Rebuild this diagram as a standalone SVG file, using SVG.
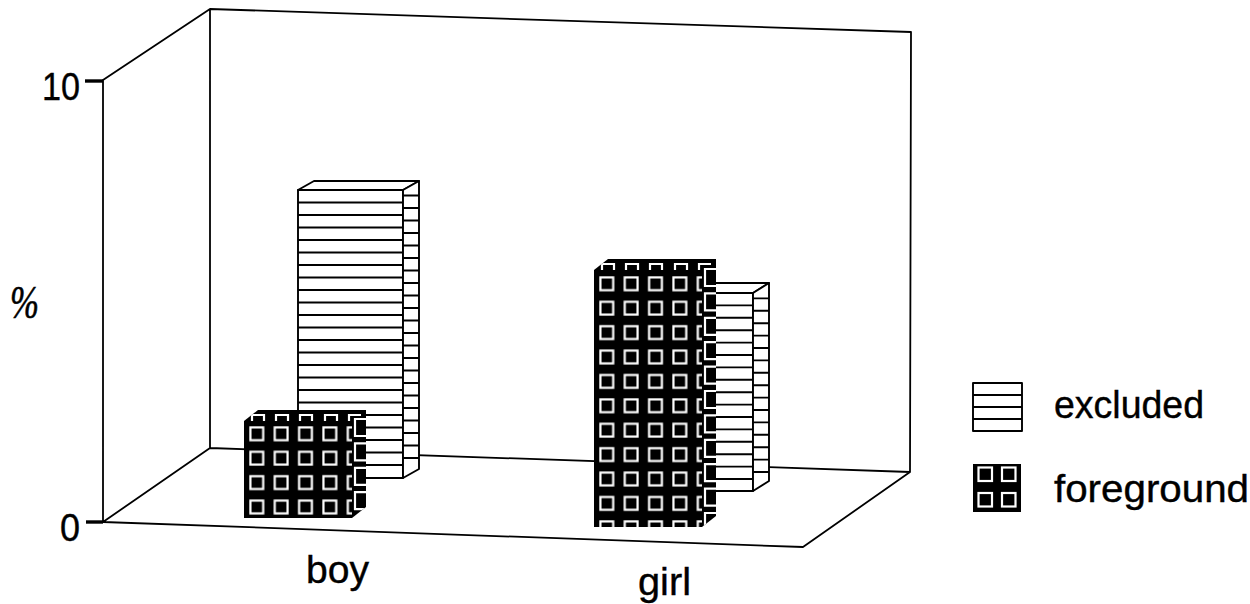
<svg xmlns="http://www.w3.org/2000/svg" width="1250" height="604" viewBox="0 0 1250 604">
<style>
.ln{fill:none;stroke:#000;stroke-width:1.8;stroke-linecap:round;stroke-linejoin:round}
.tick{stroke:#000;stroke-width:3.4}
.ex{fill:#fff;stroke:#000;stroke-width:1.9;stroke-linejoin:round}
.st{fill:none;stroke:#000;stroke-width:1.9}
.fg{fill:#000}
.sq{fill:none;stroke:#fff;stroke-width:2.2}
.t{font-family:"Liberation Sans",Arial,Helvetica,sans-serif;font-size:39px;fill:#000;stroke:#000;stroke-width:0.4}
.pc{font-family:"Liberation Serif","Times New Roman",serif;font-style:italic;font-size:46px;fill:#000;stroke:#000;stroke-width:0.6}
</style>
<defs>
<pattern id="pBoy" patternUnits="userSpaceOnUse" x="249" y="426" width="24.35" height="24.4">
<rect class="sq" x="1.4" y="1.4" width="12.8" height="12.8"/>
</pattern>
<pattern id="pGirl" patternUnits="userSpaceOnUse" x="599" y="276" width="24.35" height="24.4">
<rect class="sq" x="1.4" y="1.4" width="12.8" height="12.8"/>
</pattern>
<clipPath id="cBoy"><polygon points="244,421 258,410 366,410 366,507 352,518 244,518"/></clipPath>
<clipPath id="cGirl"><polygon points="594,270 608,259 716,259 716,516 702,527 594,527"/></clipPath>
</defs>

<g id="frame">
<path class="ln" d="M103,80 L210,9 L911,32 L910,472 M210,9 L210,448 L910,472 M103,522 L210,448 M103,80 L103,522 L803,547 L910,472"/>
<line class="tick" x1="85" y1="81" x2="103" y2="81"/>
<line class="tick" x1="86" y1="522" x2="103" y2="522"/>
</g>

<g id="axis-labels">
<text class="t" x="80" y="100" text-anchor="end" textLength="38" lengthAdjust="spacingAndGlyphs">10</text>
<text class="t" x="80" y="541" text-anchor="end" textLength="20" lengthAdjust="spacingAndGlyphs">0</text>
<text class="pc" x="10" y="318" textLength="29" lengthAdjust="spacingAndGlyphs">%</text>
<text class="t" x="306" y="583" textLength="63" lengthAdjust="spacingAndGlyphs">boy</text>
<text class="t" x="638" y="595" textLength="53" lengthAdjust="spacingAndGlyphs">girl</text>
</g>

<g id="boy-excluded">
<rect class="ex" x="298" y="190" width="105" height="288"/>
<polygon class="ex" points="298,190 314,181 419,181 403,190"/>
<polygon class="ex" points="403,190 419,181 419,469 403,478"/>
<path class="st" d="M298,202.5H403M298,215H403M298,227.5H403M298,240H403M298,252.5H403M298,265H403M298,277.5H403M298,290H403M298,302.5H403M298,315H403M298,327.5H403M298,340H403M298,352.5H403M298,365H403M298,377.5H403M298,390H403M298,402.5H403M298,415H403M298,427.5H403M298,440H403M298,452.5H403M298,465H403"/>
<path class="st" d="M403,195.5H419M403,208H419M403,220.5H419M403,233H419M403,245.5H419M403,258H419M403,270.5H419M403,283H419M403,295.5H419M403,308H419M403,320.5H419M403,333H419M403,345.5H419M403,358H419M403,370.5H419M403,383H419M403,395.5H419M403,408H419M403,420.5H419M403,433H419M403,445.5H419M403,458H419"/>
</g>

<g id="boy-foreground">
<polygon class="fg" points="244,421 258,410 366,410 366,507 352,518 244,518"/>
<g clip-path="url(#cBoy)">
<rect x="244" y="421" width="108" height="97" fill="url(#pBoy)"/>
<path class="sq" d="M252,421V415H264V421M276,421V415H288V421M300,421V415H312V421M325,421V415H337V421M349,421V415H361"/>
<path class="sq" d="M366,419H355V436H366M366,443.4H355V460.4H366M366,467.8H355V484.8H366M366,492.2H355V509.2H366"/>
</g>
</g>

<g id="girl-excluded">
<rect class="ex" x="648" y="293" width="105" height="198"/>
<polygon class="ex" points="648,293 664,283 769,283 753,293"/>
<polygon class="ex" points="753,293 769,283 769,481 753,491"/>
<path class="st" d="M648,305.4H753M648,317.8H753M648,330.2H753M648,342.6H753M648,355H753M648,367.4H753M648,379.8H753M648,392.2H753M648,404.6H753M648,417H753M648,429.4H753M648,441.8H753M648,454.2H753M648,466.6H753M648,479H753"/>
<path class="st" d="M753,298.4H769M753,310.8H769M753,323.2H769M753,335.6H769M753,348H769M753,360.4H769M753,372.8H769M753,385.2H769M753,397.6H769M753,410H769M753,422.4H769M753,434.8H769M753,447.2H769M753,459.6H769M753,472H769"/>
</g>

<g id="girl-foreground">
<polygon class="fg" points="594,270 608,259 716,259 716,516 702,527 594,527"/>
<g clip-path="url(#cGirl)">
<rect x="594" y="270" width="108" height="257" fill="url(#pGirl)"/>
<path class="sq" d="M602,270V264H614V270M626,270V264H638V270M650,270V264H662V270M675,270V264H687V270M699,270V264H711"/>
<path class="sq" d="M716,269H705V286H716M716,293.4H705V310.4H716M716,317.8H705V334.8H716M716,342.2H705V359.2H716M716,366.6H705V383.6H716M716,391H705V408H716M716,415.4H705V432.4H716M716,439.8H705V456.8H716M716,464.2H705V481.2H716M716,488.6H705V505.6H716M716,513H705V530H716"/>
</g>
</g>

<g id="legend">
<g id="legend-excluded">
<rect class="ex" x="973" y="383" width="49" height="48"/>
<path class="st" d="M973,395H1022M973,407H1022M973,419H1022"/>
<text class="t" x="1054" y="418" textLength="150" lengthAdjust="spacingAndGlyphs">excluded</text>
</g>
<g id="legend-foreground">
<rect class="fg" x="973" y="464" width="48" height="48"/>
<rect class="sq" x="978.5" y="467.5" width="13.5" height="13.5"/>
<rect class="sq" x="1002" y="467.5" width="13.5" height="13.5"/>
<rect class="sq" x="978.5" y="493" width="13.5" height="13.5"/>
<rect class="sq" x="1002" y="493" width="13.5" height="13.5"/>
<text class="t" x="1054" y="502" textLength="195" lengthAdjust="spacingAndGlyphs">foreground</text>
</g>
</g>
</svg>
